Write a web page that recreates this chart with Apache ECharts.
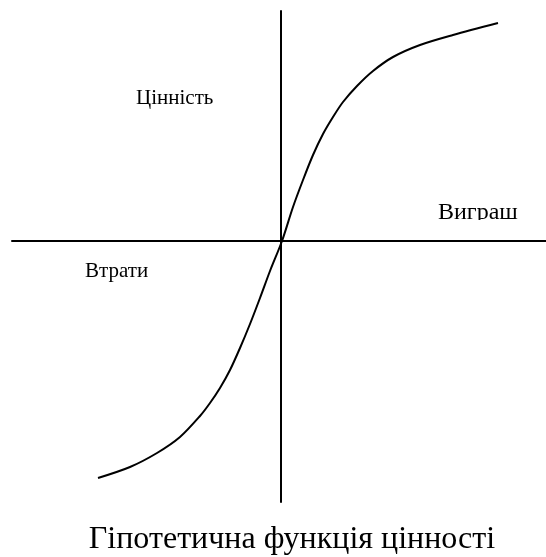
<!DOCTYPE html>
<html>
<head>
<meta charset="utf-8">
<script src="https://cdn.jsdelivr.net/npm/echarts@6/dist/echarts.min.js"></script>
<style>
html,body{margin:0;padding:0;background:#fff;}
#chart{width:546px;height:557px;}
</style>
</head>
<body>
<div id="chart"></div>
<script>
// Value function: x = gain/loss, y = value (units ~ pixels of the original sketch)
const valueX = [-183, -151, -124, -101, -81, -71, -61, -51, -41, -31, -21, -11, 1, 12, 22, 32, 42, 52, 62, 76, 92, 112, 139, 172, 217];
const valueY = [-237, -226, -212, -196, -175, -162, -147, -129, -107, -83, -57, -30, 0, 34, 61, 86, 107, 124, 139, 155, 170, 184, 196, 206, 218];
const titleText = 'Гіпотетична функція цінності';
const labelValue = 'Цінність';
const labelGain = 'Виграш';
const labelLoss = 'Втрати';

const chart = echarts.init(document.getElementById('chart'), null, {renderer: 'canvas'});
const serif = '"Liberation Serif", "DejaVu Serif", serif';
function txt(text, x, y, size, align) {
  return {type: 'text', z: 50, x: x, y: y,
    style: {text: text, font: size + 'px ' + serif, fontFamily: serif, fontSize: size, fill: '#000', align: align, verticalAlign: 'middle'}};
}
chart.setOption({
  animation: false,
  backgroundColor: '#fff',
  textStyle: {fontFamily: serif},
  grid: {left: 12, right: 0, top: 11, bottom: 55},
  xAxis: {
    type: 'value', min: -269, max: 265,
    axisLine: {onZero: true, lineStyle: {color: '#000', width: 2}},
    axisTick: {show: false}, axisLabel: {show: false}, splitLine: {show: false}
  },
  yAxis: {
    type: 'value', min: -261, max: 230,
    axisLine: {onZero: true, lineStyle: {color: '#000', width: 2}},
    axisTick: {show: false}, axisLabel: {show: false}, splitLine: {show: false}
  },
  series: [{
    type: 'line',
    data: valueX.map((x, i) => [x, valueY[i]]),
    smooth: 0.3,
    showSymbol: false,
    lineStyle: {color: '#000', width: 2},
    z: 3
  }],
  graphic: [
    txt(labelValue, 136, 98.5, 21, 'left'),
    txt(labelGain, 438, 212.5, 24, 'left'),
    {type: 'rect', z: 60, shape: {x: 430, y: 220, width: 100, height: 18.5}, style: {fill: '#fff'}},
    txt(labelLoss, 85, 271.5, 21, 'left'),
    txt(titleText, 292, 540, 32, 'center')
  ]
});
</script>
</body>
</html>
